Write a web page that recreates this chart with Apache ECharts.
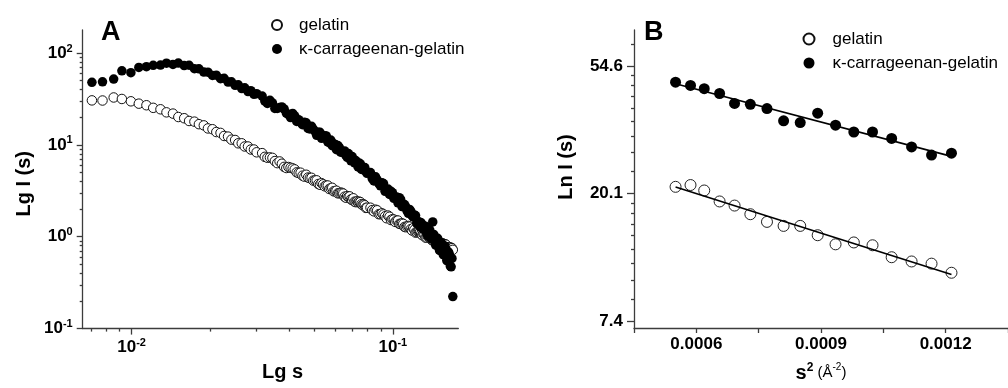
<!DOCTYPE html>
<html>
<head>
<meta charset="utf-8">
<script src="https://cdn.jsdelivr.net/npm/echarts@6/dist/echarts.min.js"></script>
<style>
  html, body { margin: 0; padding: 0; background: #fff; }
  #chart { width: 1008px; height: 388px; }
</style>
</head>
<body>
<div id="chart"></div>
<script>
// ---------- Panel A: scattering curves, Lg I(s) vs Lg s ----------
const sValues = [
  0.00705, 0.00774, 0.00854, 0.00918, 0.00994, 0.01066, 0.0114, 0.0121, 0.0129, 0.0136,
  0.0144, 0.0151, 0.0159, 0.0166, 0.0174, 0.0181, 0.0189, 0.0196, 0.0204, 0.0211,
  0.0219, 0.0226, 0.0234, 0.0241, 0.0249, 0.0256, 0.0264, 0.0271, 0.0279, 0.0286,
  0.0294, 0.0301,
  0.0316, 0.03235, 0.0331, 0.03385, 0.0346, 0.03535, 0.0361, 0.03685, 0.0376, 0.03835,
  0.0391, 0.03985, 0.0406, 0.04135, 0.0421, 0.04285, 0.0436, 0.04435, 0.0451, 0.04585,
  0.0466, 0.04735, 0.0481, 0.04885, 0.0496, 0.05035, 0.0511, 0.05185, 0.0526, 0.05335,
  0.0541, 0.05485, 0.0556, 0.05635, 0.0571, 0.05785, 0.0586, 0.05935, 0.0601, 0.06085,
  0.0616, 0.06235, 0.0631, 0.06385, 0.0646, 0.06535, 0.0661, 0.06685, 0.0676, 0.06835,
  0.0691, 0.06985, 0.0706, 0.07135, 0.0721, 0.07285, 0.0736, 0.07435, 0.0751, 0.07585,
  0.0766, 0.07735, 0.0781, 0.07885, 0.0796,
  0.0821, 0.08335, 0.0846, 0.08585, 0.0871, 0.08835, 0.0896, 0.09085, 0.0921, 0.09335,
  0.0946, 0.09585, 0.0971, 0.09835, 0.0996, 0.10085, 0.1021, 0.10335, 0.1046, 0.10585,
  0.1071, 0.10835, 0.1096, 0.11085, 0.1121, 0.11335, 0.1146, 0.11585, 0.1171, 0.11835,
  0.1196, 0.12085, 0.1221, 0.12335, 0.1246, 0.12585, 0.1271, 0.12835, 0.1296, 0.13085,
  0.1321, 0.13335, 0.1346, 0.13585, 0.1371, 0.13835, 0.1396, 0.14085, 0.1421, 0.14335,
  0.1446, 0.14585, 0.1471, 0.14835, 0.1496, 0.15085, 0.1521, 0.15335, 0.1546, 0.15585,
  0.1571, 0.15835, 0.1596, 0.16085, 0.1621, 0.16335, 0.1646, 0.16585, 0.1671, 0.16835,
  0.1696
];
const gelatinI = [
  30.5, 30.4, 32.8, 31.6, 29.8, 28.1, 27.0, 25.3, 24.4, 22.6,
  21.9, 20.1, 19.5, 18.2, 17.9, 16.8, 16.3, 15.1, 14.8, 13.8,
  13.5, 12.5, 12.3, 11.4, 11.3, 10.4, 10.4, 9.6, 9.6, 8.9,
  8.9, 8.3,
  8.13, 7.41, 7.24, 7.30, 7.22, 6.66, 6.33, 6.60, 6.23, 5.76,
  5.60, 5.74, 5.64, 5.55, 5.41, 5.02, 4.95, 4.98, 4.62, 4.51,
  4.73, 4.41, 4.35, 4.38, 4.08, 4.11, 4.11, 3.75, 3.68, 3.83,
  3.72, 3.54, 3.61, 3.61, 3.31, 3.37, 3.41, 3.12, 3.14, 3.17,
  2.97, 2.98, 3.02, 3.00, 2.95, 2.73, 2.66, 2.77, 2.71, 2.75,
  2.55, 2.51, 2.62, 2.41, 2.38, 2.43, 2.38, 2.41, 2.38, 2.26,
  2.21, 2.25, 2.20, 2.06, 2.07,
  2.07, 1.95, 1.89, 1.97, 1.94, 1.76, 1.76, 1.80, 1.75, 1.67,
  1.59, 1.70, 1.65, 1.52, 1.55, 1.54, 1.45, 1.50, 1.50, 1.38,
  1.38, 1.40, 1.38, 1.28, 1.27, 1.30, 1.31, 1.29, 1.21, 1.17,
  1.24, 1.19, 1.11, 1.12, 1.14, 1.15, 1.13, 1.07, 1.04, 1.08,
  1.06, 0.98, 0.98, 1.01, 1.02, 0.98, 0.95, 0.92, 0.91, 0.96,
  0.94, 0.88, 0.90, 0.90, 0.83, 0.85, 0.86, 0.81, 0.85, 0.84,
  0.79, 0.83, 0.82, 0.77, 0.75, 0.77, 0.77, 0.73, 0.76, 0.75,
  0.72
];
const carrageenanI = [
  48.0, 48.5, 52.0, 64.0, 61.0, 69.6, 71.0, 73.5, 74.0, 77.5,
  75.0, 77.8, 72.9, 73.6, 67.5, 67.2, 62.0, 61.9, 57.0, 57.3,
  52.6, 53.0, 48.3, 48.6, 44.5, 45.0, 41.0, 41.8, 38.0, 38.9,
  35.5, 36.1,
  34.0, 30.0, 28.2, 30.6, 28.6, 24.9, 24.9, 25.5, 25.9, 24.6,
  22.2, 21.3, 19.8, 22.0, 20.7, 18.0, 18.8, 17.6, 16.6, 17.6,
  17.4, 15.1, 14.9, 15.9, 14.8, 14.0, 12.7, 13.7, 13.7, 11.8,
  12.2, 12.6, 12.5, 10.8, 10.6, 11.3, 9.78, 10.3, 10.1, 8.86,
  9.83, 9.38, 8.34, 8.29, 8.40, 8.60, 7.66, 7.32, 8.04, 7.17,
  6.71, 7.46, 6.94, 6.37, 6.75, 6.40, 5.76, 6.35, 6.21, 5.41,
  5.51, 5.64, 5.67, 5.12, 4.90,
  4.99, 4.30, 4.05, 4.49, 4.17, 3.79, 3.58, 3.86, 3.79, 3.12,
  3.18, 3.30, 2.89, 3.12, 3.02, 2.62, 2.70, 2.70, 2.34, 2.66,
  2.55, 2.13, 2.12, 2.24, 2.12, 1.91, 1.80, 1.98, 1.90, 1.70,
  1.64, 1.72, 1.70, 1.40, 1.40, 1.46, 1.28, 1.42, 1.35, 1.20,
  1.29, 1.30, 1.10, 1.03, 1.18, 1.19, 0.98, 0.94, 1.45, 1.06,
  1.00, 0.81, 0.81, 0.96, 0.90, 0.71, 0.71, 0.85, 0.82, 0.64,
  0.63, 0.79, 0.73, 0.55, 0.55, 0.68, 0.64, 0.48, 0.47, 0.58,
  0.223
];

// ---------- Panel B: Guinier plot, Ln I(s) vs s^2 ----------
const guinierS2 = [
  0.000550, 0.000586, 0.000619, 0.000656, 0.000692, 0.000730, 0.000770, 0.000810, 0.000850,
  0.000892, 0.000935, 0.000979, 0.001024, 0.001070, 0.001118, 0.001166, 0.001214
];
const guinierGelatin = [
  21.2, 21.5, 20.6, 18.9, 18.3, 17.1, 16.1, 15.6, 15.6,
  14.5, 13.5, 13.7, 13.4, 12.2, 11.8, 11.6, 10.8
];
const guinierCarrageenan = [
  48.2, 47.0, 45.8, 44.1, 40.8, 40.5, 39.2, 35.6, 35.1,
  37.8, 34.4, 32.6, 32.6, 31.0, 29.0, 27.2, 27.6
];

// ---------- tick values ----------
const lgMajorX = [0.01, 0.1];
const lgMinorX = [0.007, 0.008, 0.009, 0.02, 0.03, 0.04, 0.05, 0.06, 0.07, 0.08, 0.09];
const lgMajorY = [0.1, 1, 10, 100];
const lgMinorY = [0.2, 0.3, 0.4, 0.5, 0.6, 0.7, 0.8, 0.9, 2, 3, 4, 5, 6, 7, 8, 9,
                  20, 30, 40, 50, 60, 70, 80, 90];
const lnMajorY = [7.389, 20.086, 54.598];
const lnMinorY = [8.80, 10.21, 11.62, 13.03, 14.44, 15.85, 17.26, 18.67,
                  23.92, 27.75, 31.59, 35.42, 39.26, 43.09, 46.93, 50.76, 65.02];
const s2Labels = [0.0006, 0.0009, 0.0012];

const seriesNames = ['gelatin', 'κ-carrageenan-gelatin'];

const FONT = "'Liberation Sans', Arial, Helvetica, sans-serif";
const AXIS_COLOR = '#3c3c3c';

// least-squares line of ln I against s^2, drawn across the fitted range
function guinierFit(xs, ys) {
  const n = xs.length;
  const ly = ys.map(Math.log);
  const mx = xs.reduce((a, b) => a + b, 0) / n;
  const my = ly.reduce((a, b) => a + b, 0) / n;
  let sxy = 0, sxx = 0;
  for (let i = 0; i < n; i++) {
    sxy += (xs[i] - mx) * (ly[i] - my);
    sxx += (xs[i] - mx) * (xs[i] - mx);
  }
  const slope = sxy / sxx, icpt = my - slope * mx;
  const x0 = xs[0], x1 = xs[n - 1];
  return [[x0, Math.exp(icpt + slope * x0)], [x1, Math.exp(icpt + slope * x1)]];
}

function powerLabel(v) {
  const e = Math.round(Math.log10(v));
  return '{m|10}{e|' + (e < 0 ? '-' + (-e) : e) + '}';
}
const powerRich = {
  m: { fontFamily: FONT, fontSize: 17, fontWeight: 'bold', color: '#000', lineHeight: 20 },
  e: { fontFamily: FONT, fontSize: 11, fontWeight: 'bold', color: '#000', lineHeight: 13, verticalAlign: 'top' }
};

const lineStyleAxis = { color: AXIS_COLOR, width: 1.3 };
const nameStyle = { fontFamily: FONT, fontSize: 20, fontWeight: 'bold', color: '#000' };

function minorAxis(gridIndex, type, min, max, values, extra) {
  return Object.assign({
    gridIndex, type, min, max,
    axisLine: { show: false },
    axisLabel: { show: false },
    splitLine: { show: false },
    axisTick: { show: true, customValues: values, length: 3, lineStyle: lineStyleAxis }
  }, extra);
}

const chart = echarts.init(document.getElementById('chart'), null, { renderer: 'canvas' });

chart.setOption({
  animation: false,
  backgroundColor: '#fff',
  textStyle: { fontFamily: FONT },
  title: [
    { text: 'A', left: 101, top: 19, padding: 0,
      textStyle: { fontFamily: FONT, fontSize: 27, fontWeight: 'bold', color: '#000' } },
    { text: 'B', left: 644, top: 19, padding: 0,
      textStyle: { fontFamily: FONT, fontSize: 27, fontWeight: 'bold', color: '#000' } }
  ],
  legend: [
    {
      data: seriesNames, orient: 'vertical', left: 271, top: 16.5, padding: 0,
      itemWidth: 10, itemHeight: 10, itemGap: 7,
      textStyle: { fontFamily: FONT, fontSize: 17, lineHeight: 17, color: '#000', padding: [0, 0, 0, 12] }
    },
    {
      data: seriesNames, orient: 'vertical', left: 802.5, top: 30.5, padding: 0,
      itemWidth: 11, itemHeight: 11, itemGap: 7,
      textStyle: { fontFamily: FONT, fontSize: 17, lineHeight: 17, color: '#000', padding: [0, 0, 0, 13] }
    }
  ],
  grid: [
    { left: 82.7, top: 30, width: 375.6, height: 301 },
    { left: 634, top: 30, right: 0, height: 300.5 }
  ],
  xAxis: [
    {
      gridIndex: 0, type: 'log', min: 0.0065, max: 0.178, position: 'bottom',
      name: 'Lg s', nameLocation: 'middle', nameGap: 27,
      nameTextStyle: Object.assign({ padding: [0, 0, 0, 24], lineHeight: 22 }, nameStyle),
      axisLine: { show: true, onZero: false, lineStyle: lineStyleAxis },
      axisTick: { show: true, customValues: lgMajorX, length: 6, lineStyle: lineStyleAxis },
      axisLabel: { customValues: lgMajorX, margin: 9, formatter: powerLabel, rich: powerRich },
      splitLine: { show: false }
    },
    minorAxis(0, 'log', 0.0065, 0.178, lgMinorX, { position: 'bottom' }),
    {
      gridIndex: 1, type: 'value', min: 0.00045, max: 0.00135, interval: 0.00015, position: 'bottom',
      name: '{b|s}{bs|2}{n| (Å}{ns|-2}{n|)}', nameLocation: 'middle', nameGap: 34,
      nameTextStyle: {
        rich: {
          b: { fontFamily: FONT, fontSize: 20, fontWeight: 'bold', color: '#000', lineHeight: 22 },
          bs: { fontFamily: FONT, fontSize: 12, fontWeight: 'bold', color: '#000', lineHeight: 14, verticalAlign: 'top' },
          n: { fontFamily: FONT, fontSize: 15, color: '#000', lineHeight: 22 },
          ns: { fontFamily: FONT, fontSize: 10, color: '#000', lineHeight: 14, verticalAlign: 'top' }
        }
      },
      axisLine: { show: true, onZero: false, lineStyle: lineStyleAxis },
      axisTick: { show: true, length: 5, lineStyle: lineStyleAxis },
      axisLabel: {
        customValues: s2Labels, margin: 8,
        fontFamily: FONT, fontSize: 17, fontWeight: 'bold', color: '#000',
        formatter: v => v.toFixed(4)
      },
      splitLine: { show: false }
    }
  ],
  yAxis: [
    {
      gridIndex: 0, type: 'log', min: 0.1, max: 178, position: 'left',
      name: 'Lg I (s)', nameLocation: 'middle', nameGap: 48,
      nameTextStyle: Object.assign({ padding: [0, 9, 0, 0] }, nameStyle),
      axisLine: { show: true, onZero: false, lineStyle: lineStyleAxis },
      axisTick: { show: true, customValues: lgMajorY, length: 6, lineStyle: lineStyleAxis },
      axisLabel: { customValues: lgMajorY, margin: 10, formatter: powerLabel, rich: powerRich },
      splitLine: { show: false }
    },
    minorAxis(0, 'log', 0.1, 178, lgMinorY, { position: 'left' }),
    {
      gridIndex: 1, type: 'log', logBase: Math.E, min: 7.0, max: 72.6, position: 'left',
      name: 'Ln I (s)', nameLocation: 'middle', nameGap: 58,
      nameTextStyle: Object.assign({ padding: [0, 0, 0, 24] }, nameStyle),
      axisLine: { show: true, onZero: false, lineStyle: lineStyleAxis },
      axisTick: { show: true, customValues: lnMajorY, length: 7, lineStyle: lineStyleAxis },
      axisLabel: {
        customValues: lnMajorY, margin: 11,
        fontFamily: FONT, fontSize: 17, fontWeight: 'bold', color: '#000',
        formatter: v => v.toFixed(1)
      },
      splitLine: { show: false }
    },
    minorAxis(1, 'log', 7.0, 72.6, lnMinorY, { position: 'left', logBase: Math.E })
  ],
  series: [
    {
      name: seriesNames[0], type: 'scatter', xAxisIndex: 0, yAxisIndex: 0,
      symbol: 'circle', symbolSize: 9.5,
      itemStyle: { color: '#fff', borderColor: '#111', borderWidth: 1, opacity: 1 },
      data: sValues.map((s, i) => [s, gelatinI[i]])
    },
    {
      name: seriesNames[1], type: 'scatter', xAxisIndex: 0, yAxisIndex: 0,
      symbol: 'circle', symbolSize: 9.5,
      itemStyle: { color: '#000', borderWidth: 0, opacity: 1 },
      data: sValues.map((s, i) => [s, carrageenanI[i]])
    },
    {
      name: seriesNames[0], type: 'scatter', xAxisIndex: 2, yAxisIndex: 2,
      symbol: 'circle', symbolSize: 11,
      itemStyle: { color: 'rgba(255,255,255,0)', borderColor: '#222', borderWidth: 1, opacity: 1 },
      data: guinierS2.map((x, i) => [x, guinierGelatin[i]])
    },
    {
      name: seriesNames[1], type: 'scatter', xAxisIndex: 2, yAxisIndex: 2,
      symbol: 'circle', symbolSize: 11,
      itemStyle: { color: '#000', opacity: 1 },
      data: guinierS2.map((x, i) => [x, guinierCarrageenan[i]])
    },
    {
      name: 'gelatin fit', type: 'line', xAxisIndex: 2, yAxisIndex: 2, z: 4,
      symbol: 'none', lineStyle: { color: '#000', width: 1.6 },
      data: guinierFit(guinierS2, guinierGelatin)
    },
    {
      name: 'κ-carrageenan-gelatin fit', type: 'line', xAxisIndex: 2, yAxisIndex: 2, z: 4,
      symbol: 'none', lineStyle: { color: '#000', width: 1.6 },
      data: guinierFit(guinierS2, guinierCarrageenan)
    }
  ]
});
</script>
</body>
</html>
